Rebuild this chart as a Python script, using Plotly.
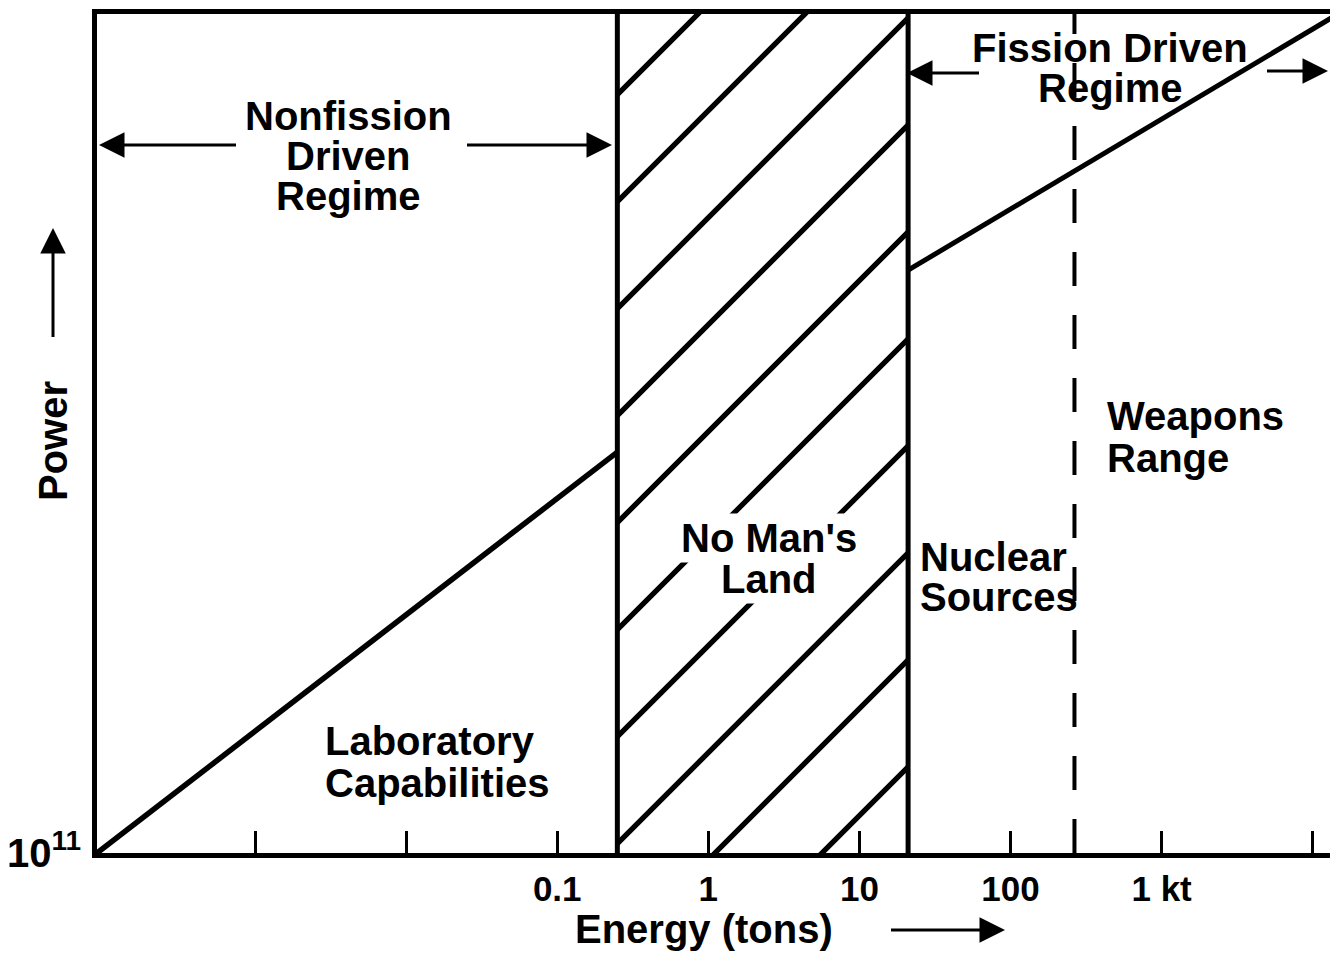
import math
import plotly.graph_objects as go

# ---------------- data ----------------
x_tick_vals = [0.1, 1, 10, 100, 1000]
x_tick_text = ["0.1", "1", "10", "100", "1 kt"]
x_minor_ticks = [0.001, 0.01, 10000]
y_tick_vals = [1e11]
y_tick_text = ["10<sup>11</sup>"]

lab_energy = [9e-5, 0.25]          # tons
lab_power = [1e11, 4.5e13]

fission_energy = [21, 14700]
fission_power = [7.2e14, 3.57e16]

no_mans_land = [0.25, 21]           # regime boundaries (tons)
weapons_threshold = 265             # dashed line (tons)

power_bottom = 1e11
power_top = 3.57e16

# ---------------- layout constants ----------------
OFF = 8                              # page body margin
W, H = 1322, 945
ML, MR, MT = 89, 0, 6
PW = W - ML - MR
PH = 839
MB = H - MT - PH
DECADE_PX = 151.1
X_RANGE = [math.log10(9e-5), math.log10(9e-5) + PW / DECADE_PX]
Y_RANGE = [11, math.log10(power_top)]

FONT = "Liberation Sans, Arial, Helvetica, sans-serif"


def px(xs):
    return (xs - OFF - ML) / PW


def py(ys):
    return (MT + PH - (ys - OFF)) / PH


fig = go.Figure()

# hatched "No Man's Land" (separate overlay axes so the hatch phase matches)
HATCH_X0 = 591 - OFF
f0 = (HATCH_X0 - ML) / PW
x2_range = [X_RANGE[0] + f0 * (X_RANGE[1] - X_RANGE[0]), X_RANGE[1]]

fig.add_trace(go.Scatter(
    x=[no_mans_land[0], no_mans_land[0], no_mans_land[1], no_mans_land[1], no_mans_land[0]],
    y=[power_bottom, power_top, power_top, power_bottom, power_bottom],
    mode="none", fill="toself", fillcolor="rgba(0,0,0,0)",
    fillpattern=dict(shape="/", size=107 / math.sqrt(2), solidity=0.07,
                     fgcolor="black", fgopacity=1, bgcolor="rgba(0,0,0,0)"),
    xaxis="x2", yaxis="y2", hoverinfo="skip"))

# laboratory capabilities line
fig.add_trace(go.Scatter(x=lab_energy, y=lab_power, mode="lines",
                         line=dict(color="black", width=5.5)))
# fission driven line
fig.add_trace(go.Scatter(x=fission_energy, y=fission_power, mode="lines",
                         line=dict(color="black", width=5)))
# regime boundaries
for e in no_mans_land:
    fig.add_trace(go.Scatter(x=[e, e], y=[power_bottom, power_top], mode="lines",
                             line=dict(color="black", width=5)))
# weapons threshold dashed
fig.add_trace(go.Scatter(x=[weapons_threshold, weapons_threshold],
                         y=[power_bottom, power_top], mode="lines",
                         line=dict(color="black", width=4, dash="34px,29px")))

tfont = dict(family=FONT, size=40, color="black", weight="bold")

labels = [
    ("Nonfission", 348, 116, "center"),
    ("Driven", 348, 156, "center"),
    ("Regime", 348, 196, "center"),
    ("Fission Driven", 1110, 48, "center"),
    ("Regime", 1110, 88, "center"),
    ("Weapons", 1105, 416, "left"),
    ("Range", 1105, 458, "left"),
    ("Nuclear", 918, 557, "left"),
    ("Sources", 918, 597, "left"),
    ("Laboratory", 323, 741, "left"),
    ("Capabilities", 323, 783, "left"),
]
ann = []
for t, xs, ys, xa in labels:
    ann.append(dict(text=t, x=px(xs), y=py(ys), xref="paper", yref="paper",
                    xanchor=xa, yanchor="middle", showarrow=False, font=tfont))

# No Man's Land with white background (gaps in hatch)
for t, ys in [("No Man's", 538), ("Land", 579)]:
    ann.append(dict(text=t, x=px(769), y=py(ys), xref="paper", yref="paper",
                    xanchor="center", yanchor="middle", showarrow=False, font=tfont,
                    bgcolor="white", borderpad=2))

# axis titles
ann.append(dict(text="Energy (tons)", x=px(704), y=py(929), xref="paper", yref="paper",
                xanchor="center", yanchor="middle", showarrow=False, font=tfont))
ann.append(dict(text="Power", x=px(53), y=py(441), xref="paper", yref="paper",
                xanchor="center", yanchor="middle", showarrow=False, font=tfont,
                textangle=-90))


def arrow(xtip, ytip, dx, dy):
    return dict(x=px(xtip), y=py(ytip), xref="paper", yref="paper",
                ax=dx, ay=dy, axref="pixel", ayref="pixel", showarrow=True,
                arrowhead=2, arrowsize=1.7, arrowwidth=3, arrowcolor="black",
                standoff=0)


ann += [
    arrow(99, 145, 140, 0),
    arrow(612, 145, -148, 0),
    arrow(907, 73, 75, 0),
    arrow(1328, 71, -64, 0),
    arrow(53, 228, 0, 119),
    arrow(1005, 930, -117, 0),
]

fig.update_layout(
    width=W, height=H,
    margin=dict(l=ML, r=MR, t=MT, b=MB),
    paper_bgcolor="white", plot_bgcolor="rgba(0,0,0,0)",
    showlegend=False,
    annotations=ann,
    xaxis=dict(type="log", range=X_RANGE, tickvals=x_tick_vals, ticktext=x_tick_text,
               ticks="inside", ticklen=22, tickwidth=3, tickcolor="black",
               minor=dict(tickvals=x_minor_ticks, ticks="inside", ticklen=22,
                          tickwidth=3, tickcolor="black", showgrid=False),
               showline=True, linewidth=5, linecolor="black", mirror=True,
               showgrid=False, zeroline=False, ticklabelstandoff=1,
               tickfont=dict(family=FONT, size=35, color="black", weight="bold")),
    yaxis=dict(type="log", range=Y_RANGE, tickvals=y_tick_vals, ticktext=y_tick_text,
               ticks="", showline=True, linewidth=5, linecolor="black", mirror=False,
               showgrid=False, zeroline=False, ticklabelstandoff=3,
               tickfont=dict(family=FONT, size=40, color="black", weight="bold")),
    xaxis2=dict(type="log", domain=[f0, 1], range=x2_range, anchor="y2", visible=False),
    yaxis2=dict(type="log", domain=[0, 1], range=Y_RANGE, anchor="x2", visible=False),
)

fig.write_html("out.html")
